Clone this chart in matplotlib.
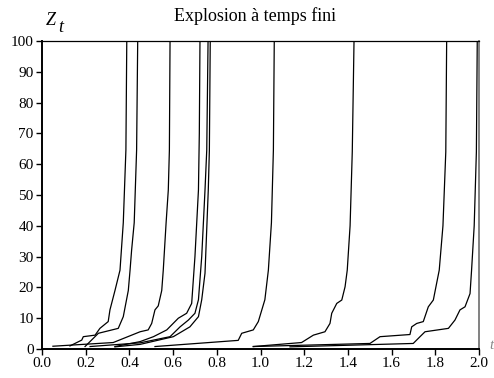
import matplotlib.pyplot as plt

plt.rcParams['font.family'] = ['Liberation Serif', 'DejaVu Serif']

# trajectories Z_t, one list of times and one of values per curve
t1 = [0.128, 0.182, 0.189, 0.243, 0.265, 0.303, 0.311, 0.334, 0.357, 0.372, 0.384, 0.388]
z1 = [1.0, 2.9, 4.0, 4.5, 6.7, 8.9, 12.7, 19.0, 25.6, 41.0, 64.6, 100]
t2 = [0.197, 0.258, 0.349, 0.372, 0.395, 0.403, 0.410, 0.422, 0.433, 0.438]
z2 = [0.8, 5.1, 6.7, 10.5, 19.0, 25.6, 32.0, 41.0, 64.6, 100]
t3 = [0.050, 0.326, 0.449, 0.486, 0.502, 0.517, 0.532, 0.548, 0.555, 0.568, 0.578, 0.583, 0.586]
z3 = [0.9, 2.1, 5.6, 6.2, 8.3, 12.7, 14.0, 19.0, 25.6, 41.0, 51.6, 64.6, 100]
t4 = [0.334, 0.449, 0.510, 0.571, 0.624, 0.662, 0.685, 0.700, 0.716, 0.720, 0.723]
z4 = [0.8, 2.4, 4.0, 6.2, 10.0, 11.6, 14.8, 30.0, 51.6, 70.0, 100]
t5 = [0.220, 0.449, 0.586, 0.632, 0.670, 0.700, 0.716, 0.731, 0.746, 0.754, 0.760]
z5 = [0.8, 2.0, 4.0, 7.2, 9.4, 11.6, 16.0, 30.0, 51.6, 64.6, 100]
t6 = [0.334, 0.449, 0.601, 0.677, 0.716, 0.731, 0.746, 0.761, 0.766, 0.770]
z6 = [0.7, 1.5, 4.0, 7.2, 10.5, 16.0, 24.6, 51.6, 64.6, 100]
t7 = [0.517, 0.898, 0.914, 0.967, 0.990, 1.020, 1.036, 1.050, 1.059, 1.063]
z7 = [0.8, 2.8, 5.1, 6.2, 8.9, 16.0, 25.6, 41.0, 64.6, 100]
t8 = [0.967, 1.188, 1.242, 1.295, 1.318, 1.326, 1.349, 1.372, 1.387, 1.397, 1.410, 1.420, 1.428]
z8 = [0.8, 2.1, 4.5, 5.6, 8.3, 11.6, 14.8, 15.9, 20.2, 25.6, 40.0, 64.0, 100]
t9 = [0.967, 1.501, 1.547, 1.684, 1.692, 1.715, 1.745, 1.768, 1.791, 1.806, 1.818, 1.835, 1.848, 1.852]
z9 = [0.8, 1.8, 4.0, 4.7, 7.2, 8.3, 8.9, 13.7, 15.9, 21.3, 25.6, 40.0, 64.0, 100]
t10 = [1.135, 1.699, 1.730, 1.753, 1.860, 1.890, 1.913, 1.936, 1.959, 1.966, 1.978, 1.988, 1.992]
z10 = [0.7, 1.8, 4.0, 5.6, 6.7, 9.4, 12.7, 13.7, 18.0, 25.6, 40.0, 64.0, 100]

curves = [(t1, z1), (t2, z2), (t3, z3), (t4, z4), (t5, z5),
          (t6, z6), (t7, z7), (t8, z8), (t9, z9), (t10, z10)]

xticks = [0.0, 0.2, 0.4, 0.6, 0.8, 1.0, 1.2, 1.4, 1.6, 1.8, 2.0]
yticks = [0, 10, 20, 30, 40, 50, 60, 70, 80, 90, 100]

fig = plt.figure(figsize=(4.94, 3.78), dpi=100)
ax = fig.add_axes([42/494, 29/378, 437/494, 308/378])

for t, z in curves:
    ax.plot(t, z, color='black', lw=0.9)

ax.set_xlim(0, 2)
ax.set_ylim(0, 100)
ax.set_xticks(xticks)
ax.set_xticklabels(['%.1f' % x for x in xticks])
ax.set_yticks(yticks)
ax.tick_params(axis='both', labelsize=11, direction='out', length=4, width=1, pad=2)

ax.spines['left'].set_linewidth(1.4)
ax.spines['bottom'].set_linewidth(1.4)
ax.spines['top'].set_linewidth(0.9)
ax.spines['right'].set_linewidth(1.3)
ax.spines['right'].set_color('#777777')

fig.text(255/494, 1 - 16/378, 'Explosion à temps fini', ha='center', va='center', fontsize=13)
fig.text(46/494, 1 - 25/378, 'Z', ha='left', va='baseline', fontsize=13, style='italic')
fig.text(58/494, 1 - 32/378, 't', ha='left', va='baseline', fontsize=13, style='italic')
fig.text(489/494, 1 - 349/378, 't', ha='left', va='baseline', fontsize=11, style='italic', color='#888888')

fig.savefig('out.png', dpi=100)
